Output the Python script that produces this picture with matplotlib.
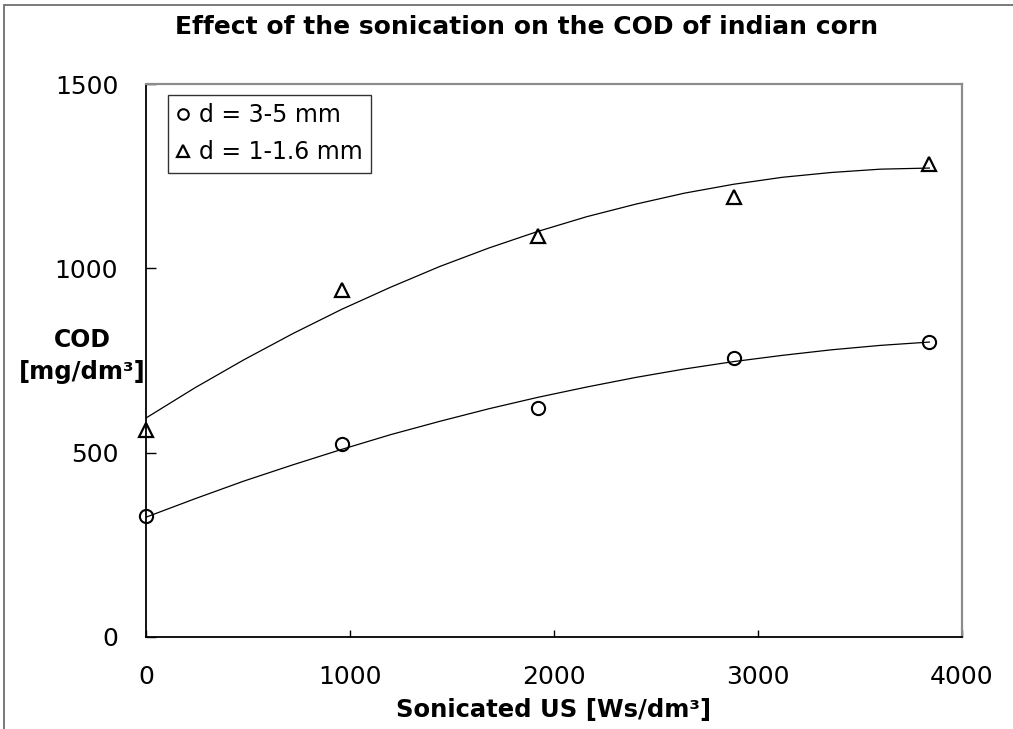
import matplotlib
matplotlib.use("Agg")
import matplotlib.pyplot as plt
from matplotlib.patches import Rectangle

plt.rcParams['font.family'] = ['DejaVu Sans']

# Measured COD values
energy = [0, 960, 1920, 2880, 3840]
cod_coarse = [328, 523, 621, 757, 800]     # d = 3-5 mm
cod_fine = [561, 941, 1088, 1193, 1283]    # d = 1-1.6 mm

# Trend curves
trend_x = [0, 240, 480, 720, 960, 1200, 1440, 1680, 1920, 2160, 2400,
           2640, 2880, 3120, 3360, 3600, 3840]
trend_coarse = [325, 375, 423, 467, 509, 549, 585, 619, 650, 678, 704,
                727, 747, 764, 779, 791, 800]
trend_fine = [594, 676, 752, 823, 889, 949, 1005, 1055, 1100, 1140, 1174,
              1204, 1228, 1247, 1260, 1269, 1272]

x_ticks = [0, 1000, 2000, 3000, 4000]
y_ticks = [0, 500, 1000, 1500]

W, H = 1013, 729
fig = plt.figure(figsize=(W / 100, H / 100), dpi=100)
ax = fig.add_axes([146 / W, 1 - 637 / H, (962 - 146) / W, (637 - 84) / H])

ax.plot(trend_x, trend_fine, color='black', lw=0.9, zorder=2)
ax.plot(trend_x, trend_coarse, color='black', lw=0.9, zorder=2)
ax.plot(energy, cod_coarse, linestyle='none', marker='o', ms=9.5,
        mfc='none', mec='black', mew=1.5, clip_on=False, zorder=3,
        label='d = 3-5 mm')
ax.plot(energy, cod_fine, linestyle='none', marker='^', ms=10.5,
        mfc='none', mec='black', mew=1.6, clip_on=False, zorder=3,
        label='d = 1-1.6 mm')

ax.set_xlim(0, 4000)
ax.set_ylim(0, 1500)
ax.set_xticks(x_ticks)
ax.set_yticks(y_ticks)
ax.tick_params(axis='x', direction='in', length=5, width=1, pad=20,
               labelsize=18)
ax.tick_params(axis='y', direction='in', length=7, width=1, pad=20,
               labelsize=18)

for side in ('left', 'bottom'):
    ax.spines[side].set_color('black')
    ax.spines[side].set_linewidth(1.3)
for side in ('top', 'right'):
    ax.spines[side].set_color('#8c8c8c')
    ax.spines[side].set_linewidth(1.6)

leg = ax.legend(loc='upper left', bbox_to_anchor=(0.027, 0.98),
                borderaxespad=0, fontsize=17, frameon=True, fancybox=False,
                edgecolor='black', handlelength=0.6, handletextpad=0.35,
                labelspacing=0.55, borderpad=0.35, markerscale=0.8)
leg.get_frame().set_linewidth(1.0)

fig.text(527 / W, 1 - 27 / H,
         'Effect of the sonication on the COD of indian corn',
         ha='center', va='center', fontsize=18, fontweight='bold')
fig.text(82 / W, 1 - 340 / H, 'COD', ha='center', va='center',
         fontsize=17, fontweight='bold')
fig.text(82 / W, 1 - 372 / H, '[mg/dm³]', ha='center', va='center',
         fontsize=17.5, fontweight='bold')
fig.text(554 / W, 1 - 710 / H, 'Sonicated US [Ws/dm³]', ha='center',
         va='center', fontsize=17.5, fontweight='bold')

# outer frame of the chart area
fig.patches.append(Rectangle((4 / W, -0.05), 1.2, 1 - 5 / H + 0.05,
                             transform=fig.transFigure, fill=False,
                             edgecolor='#6e6e6e', lw=1.3))

fig.savefig('out.png', dpi=100)
